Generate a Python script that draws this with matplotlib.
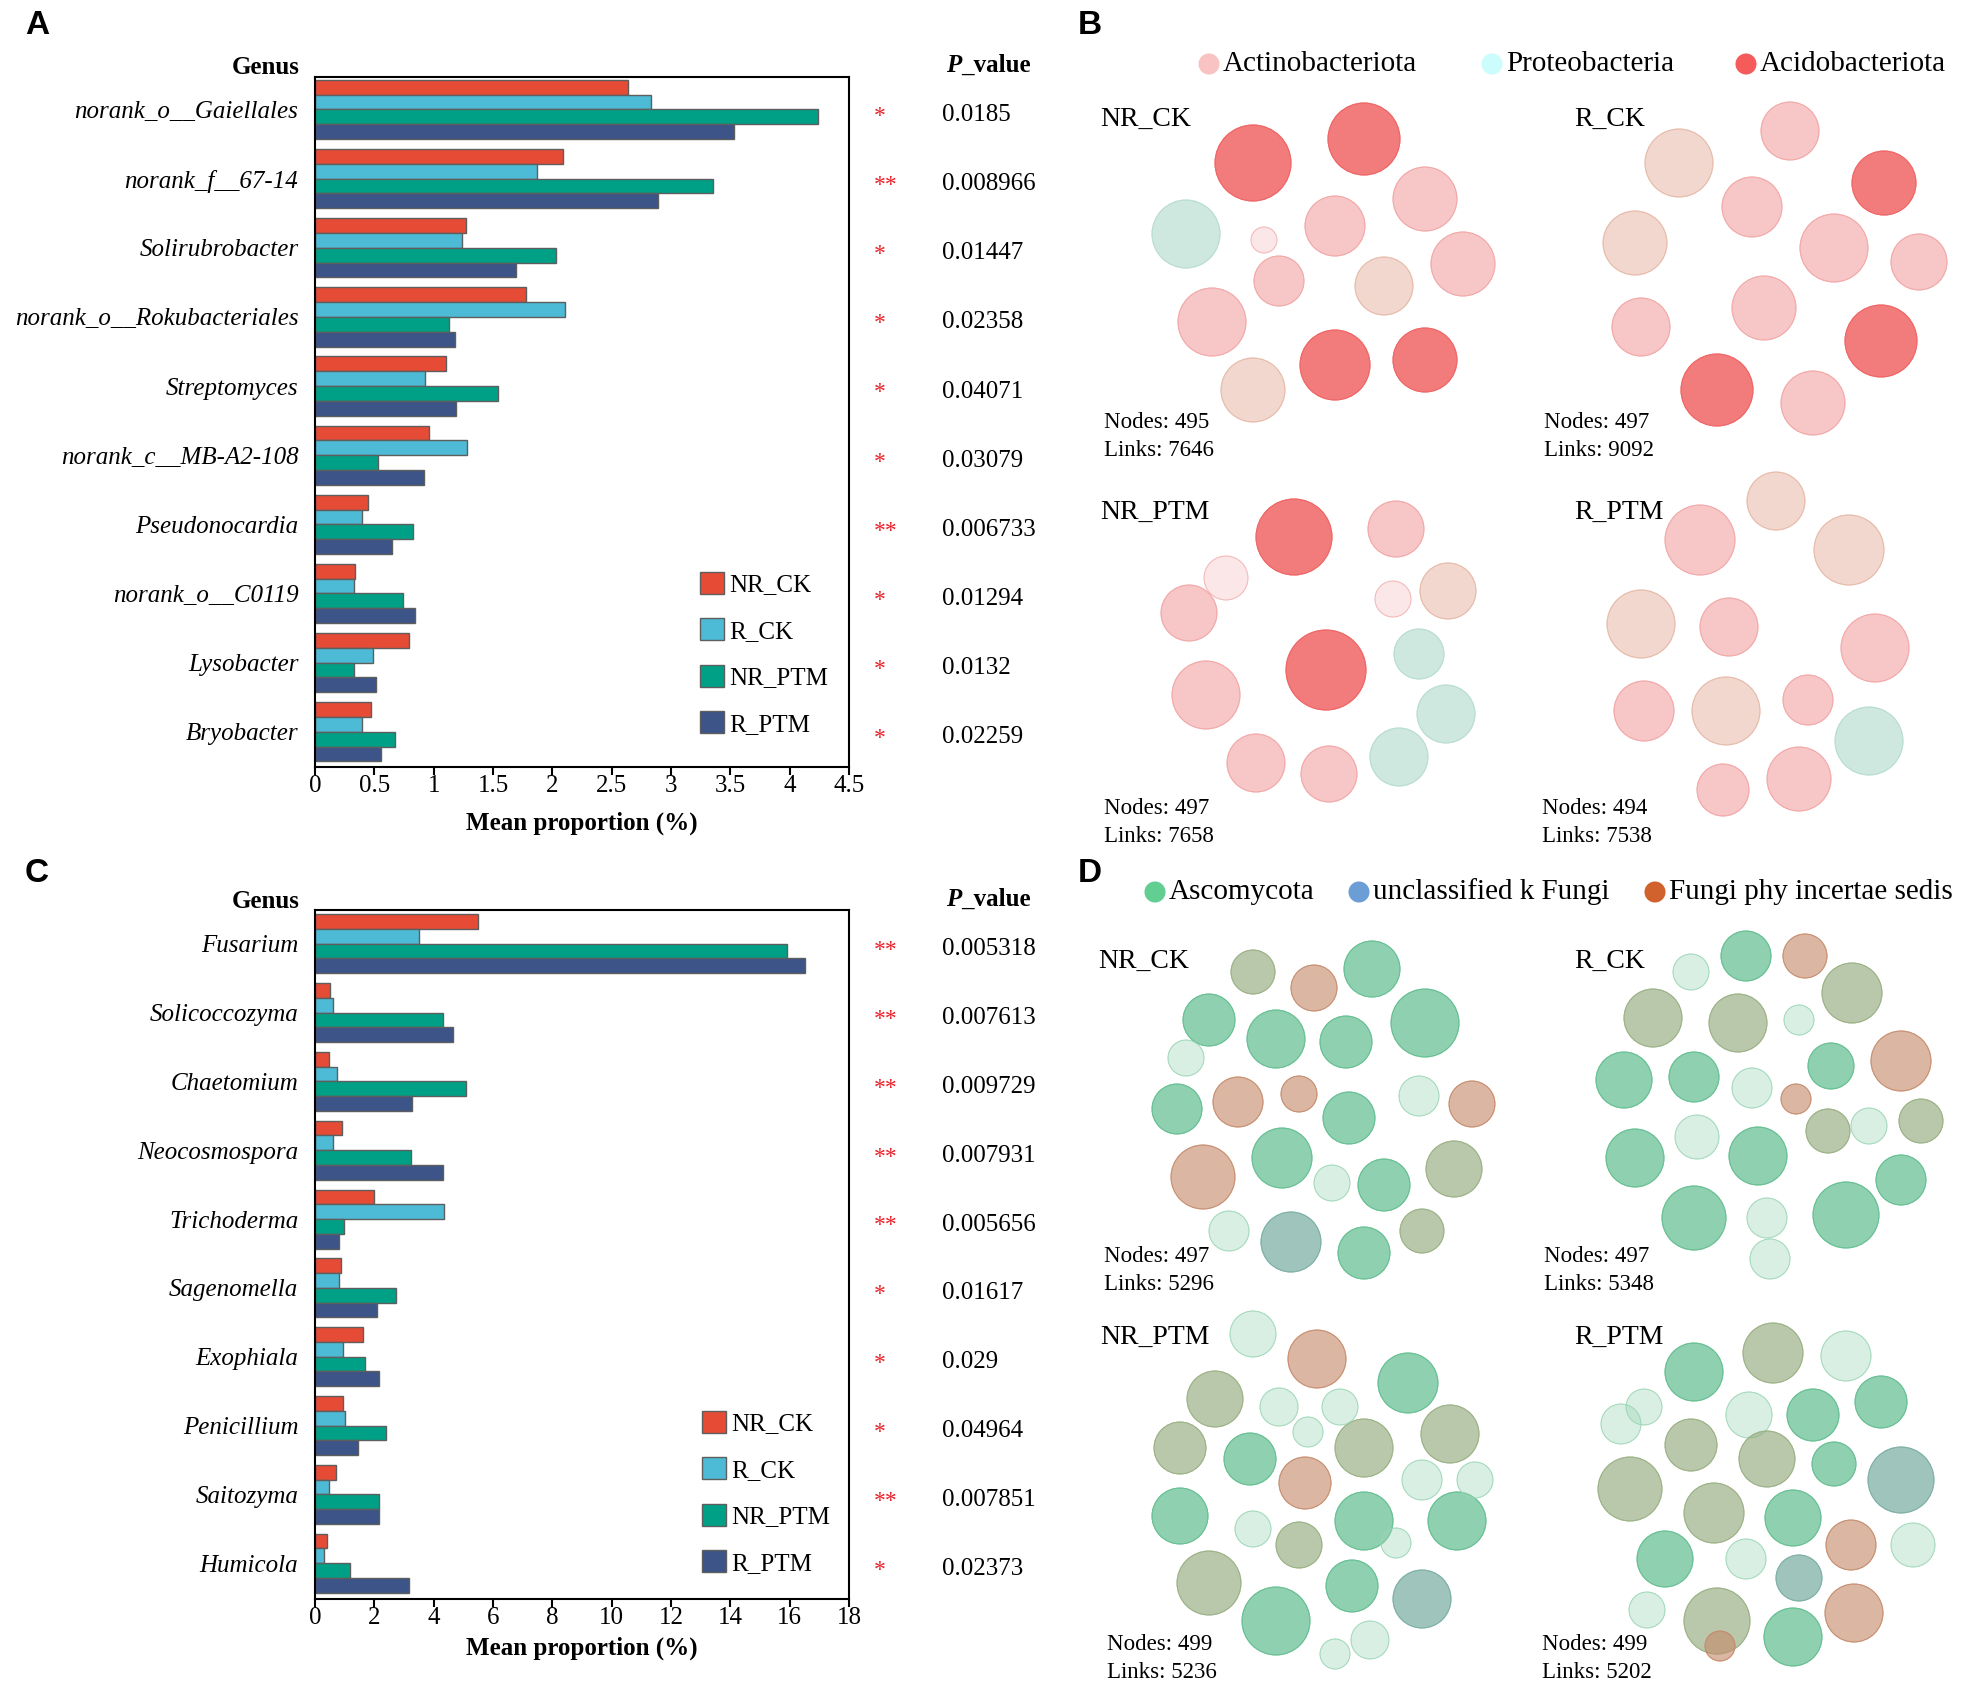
import numpy as np
import matplotlib

matplotlib.use("Agg")
import matplotlib.pyplot as plt
from matplotlib.patches import Circle
from matplotlib import transforms

plt.rcParams.update({"font.family": ["Liberation Serif", "DejaVu Serif"], "font.size": 18})

W, H = 1971, 1694

# ---------------- bar chart data ----------------
groups = ["NR_CK", "R_CK", "NR_PTM", "R_PTM"]
group_colors = ["#E64B35", "#4DBBD5", "#00A087", "#3C5488"]

genus_bac = ["norank_o__Gaiellales", "norank_f__67-14", "Solirubrobacter",
             "norank_o__Rokubacteriales", "Streptomyces", "norank_c__MB-A2-108",
             "Pseudonocardia", "norank_o__C0119", "Lysobacter", "Bryobacter"]
nr_ck_bac = [2.64, 2.09, 1.27, 1.78, 1.10, 0.96, 0.45, 0.34, 0.79, 0.47]
r_ck_bac = [2.83, 1.87, 1.24, 2.11, 0.93, 1.28, 0.40, 0.33, 0.49, 0.40]
nr_ptm_bac = [4.24, 3.35, 2.03, 1.13, 1.54, 0.53, 0.83, 0.74, 0.33, 0.67]
r_ptm_bac = [3.53, 2.89, 1.69, 1.18, 1.19, 0.92, 0.65, 0.84, 0.51, 0.56]
sig_bac = ["*", "**", "*", "*", "*", "*", "**", "*", "*", "*"]
pval_bac = ["0.0185", "0.008966", "0.01447", "0.02358", "0.04071",
            "0.03079", "0.006733", "0.01294", "0.0132", "0.02259"]

genus_fun = ["Fusarium", "Solicoccozyma", "Chaetomium", "Neocosmospora", "Trichoderma",
             "Sagenomella", "Exophiala", "Penicillium", "Saitozyma", "Humicola"]
nr_ck_fun = [5.49, 0.50, 0.48, 0.92, 1.99, 0.89, 1.62, 0.94, 0.71, 0.39]
r_ck_fun = [3.52, 0.62, 0.73, 0.59, 4.35, 0.80, 0.96, 1.01, 0.46, 0.32]
nr_ptm_fun = [15.9, 4.30, 5.10, 3.23, 0.98, 2.72, 1.69, 2.40, 2.17, 1.17]
r_ptm_fun = [16.52, 4.65, 3.27, 4.32, 0.80, 2.08, 2.15, 1.44, 2.17, 3.16]
sig_fun = ["**", "**", "**", "**", "**", "*", "*", "*", "**", "*"]
pval_fun = ["0.005318", "0.007613", "0.009729", "0.007931", "0.005656",
            "0.01617", "0.029", "0.04964", "0.007851", "0.02373"]

# ---------------- network data ----------------
# modules: (x, y, radius, tone) in layout pixels, relative to network centre
bac_phyla = ["Actinobacteriota", "Proteobacteria", "Acidobacteriota"]
bac_phyla_colors = ["#F9C3C3", "#CCFCFC", "#F55B5B"]
fun_phyla = ["Ascomycota", "unclassified k Fungi", "Fungi phy incertae sedis"]
fun_phyla_colors = ["#62CE92", "#6C9ED6", "#D2622D"]

bac_nr_ck = [(-70, -99, 38, "R"), (41, -123, 36, "R"), (102, -63, 32, "P"), (-137, -28, 34, "C"),
             (12, -36, 30, "P"), (140, 2, 32, "P"), (-44, 19, 25, "P"), (61, 24, 29, "G"),
             (-111, 60, 34, "P"), (12, 103, 35, "R"), (102, 98, 32, "R"), (-70, 128, 32, "G"),
             (-59, -22, 13, "S")]
bac_r_ck = [(-96, -105, 34, "G"), (15, -137, 29, "P"), (109, -85, 32, "R"), (-23, -61, 30, "P"),
            (-140, -25, 32, "G"), (59, -20, 34, "P"), (144, -6, 28, "P"), (-11, 40, 32, "P"),
            (-134, 59, 29, "P"), (106, 73, 36, "R"), (-58, 122, 36, "R"), (38, 135, 32, "P")]
bac_nr_ptm = [(-24, -113, 38, "R"), (78, -121, 28, "P"), (130, -59, 28, "G"), (-129, -37, 28, "P"),
              (8, 20, 40, "R"), (101, 4, 25, "C"), (-112, 45, 34, "P"), (128, 64, 29, "C"),
              (-62, 113, 29, "P"), (11, 124, 28, "P"), (81, 107, 29, "C"), (-92, -72, 22, "S"),
              (75, -51, 18, "S")]
bac_r_ptm = [(-58, -104, 35, "P"), (18, -143, 29, "G"), (91, -94, 35, "G"), (-117, -20, 34, "G"),
             (-29, -17, 29, "P"), (117, 4, 34, "P"), (-114, 67, 30, "P"), (-32, 67, 34, "G"),
             (50, 56, 25, "P"), (111, 97, 34, "C"), (-35, 146, 26, "P"), (41, 135, 32, "P")]

fun_nr_ck = [(-114, -90, 26, "G"), (-47, -71, 29, "G"), (23, -68, 26, "G"), (102, -87, 34, "G"),
             (-70, -138, 22, "M"), (-9, -122, 23, "R"), (49, -141, 28, "G"), (-146, -1, 25, "G"),
             (-85, -8, 25, "R"), (26, 8, 26, "G"), (96, -14, 20, "S"), (149, -6, 23, "R"),
             (-120, 67, 32, "R"), (-41, 48, 30, "G"), (61, 75, 26, "G"), (131, 59, 28, "M"),
             (-32, 132, 30, "B"), (41, 143, 26, "G"), (99, 121, 22, "M"), (-94, 121, 20, "S"),
             (9, 73, 18, "S"), (-24, -16, 18, "R"), (-137, -52, 18, "S")]
fun_r_ck = [(-117, -87, 29, "M"), (-32, -82, 29, "M"), (-24, -149, 25, "G"), (35, -149, 22, "R"),
            (82, -112, 30, "M"), (131, -44, 30, "R"), (61, -39, 23, "G"), (-146, -25, 28, "G"),
            (-76, -28, 25, "G"), (-18, -17, 20, "S"), (-73, 32, 22, "S"), (-135, 53, 29, "G"),
            (-12, 51, 29, "G"), (58, 26, 22, "M"), (151, 16, 22, "M"), (-76, 113, 32, "G"),
            (76, 110, 33, "G"), (-3, 113, 20, "S"), (131, 75, 25, "G"), (99, 21, 18, "S"),
            (0, 154, 20, "S"), (26, -6, 15, "R"), (-79, -133, 18, "S"), (29, -85, 15, "S")]
fun_nr_ptm = [(-2, -131, 29, "R"), (89, -107, 30, "G"), (-104, -91, 28, "M"), (-66, -156, 23, "S"),
              (45, -42, 29, "M"), (131, -56, 29, "M"), (-69, -31, 26, "G"), (-139, -42, 26, "M"),
              (-14, -7, 26, "R"), (45, 31, 29, "G"), (138, 31, 29, "G"), (-139, 26, 28, "G"),
              (-20, 55, 23, "M"), (-110, 93, 32, "M"), (-43, 131, 34, "G"), (33, 96, 26, "G"),
              (103, 109, 29, "B"), (-40, -83, 19, "S"), (21, -83, 18, "S"), (103, -10, 20, "S"),
              (156, -10, 18, "S"), (-66, 39, 18, "S"), (51, 150, 19, "S"), (77, 53, 15, "S"),
              (-11, -58, 15, "S"), (16, 164, 15, "S")]
fun_r_ptm = [(-74, -120, 29, "G"), (5, -139, 30, "M"), (78, -136, 25, "S"), (45, -77, 26, "G"),
             (113, -90, 26, "G"), (-19, -77, 23, "S"), (-77, -47, 26, "M"), (-1, -33, 28, "M"),
             (-138, -3, 32, "M"), (133, -12, 33, "B"), (66, -28, 22, "G"), (-54, 21, 30, "M"),
             (25, 26, 28, "G"), (-103, 67, 28, "G"), (83, 53, 25, "R"), (145, 53, 22, "S"),
             (-22, 67, 20, "S"), (31, 86, 23, "B"), (-51, 129, 33, "M"), (25, 145, 29, "G"),
             (86, 121, 29, "R"), (-48, 154, 15, "R"), (-121, 118, 18, "S"), (-147, -68, 20, "S"),
             (-124, -85, 18, "S")]

net_names = ["NR_CK", "R_CK", "NR_PTM", "R_PTM"]
bac_nodes = [495, 497, 497, 494]
bac_links = [7646, 9092, 7658, 7538]
fun_nodes = [497, 497, 499, 499]
fun_links = [5296, 5348, 5236, 5202]

bac_tones = {"R": ("#F06464", 0.85), "P": ("#F2A3A3", 0.6), "G": ("#E6B6A4", 0.55),
             "C": ("#B5DCCF", 0.65), "S": ("#F3B0B0", 0.3)}
fun_tones = {"G": ("#62BE90", 0.72), "M": ("#98AF82", 0.68), "R": ("#C58A6A", 0.62),
             "B": ("#79AEA3", 0.72), "S": ("#9BD6B6", 0.38)}

fig = plt.figure(figsize=(W / 100, H / 100), dpi=100)
ov = fig.add_axes([0, 0, 1, 1])
ov.set_xlim(0, W)
ov.set_ylim(H, 0)
ov.axis("off")


def fx(px):
    return px / W


def fy(py):
    return 1 - py / H


def bar_panel(top, bottom, ylim, genus, series, sig, pvals, xmax, step, leg_xy, head_y, lpad):
    ax = fig.add_axes([fx(315), fy(bottom), fx(849) - fx(315), fy(top) - fy(bottom)])
    y = np.arange(len(genus))
    offs = [-0.321, -0.107, 0.107, 0.321]
    for vals, col, lab, o in zip(series, group_colors, groups, offs):
        ax.barh(y + o, vals, height=0.214, color=col, edgecolor="#5E5E5E",
                linewidth=1.0, label=lab)
    ax.set_ylim(*ylim)
    ax.set_xlim(0, xmax)
    ticks = np.arange(0, xmax + step / 2, step)
    ax.set_xticks(ticks)
    ax.set_xticklabels([f"{t:g}" for t in ticks], fontsize=18)
    ax.set_yticks(y)
    ax.set_yticklabels(genus, fontsize=18, style="italic")
    ax.tick_params(axis="y", length=0, pad=12)
    ax.tick_params(axis="x", length=6, width=1.5, pad=0)
    for s in ax.spines.values():
        s.set_linewidth(1.5)
    ax.set_xlabel("Mean proportion (%)", fontsize=18, fontweight="bold", labelpad=lpad)
    ax.legend(loc="upper left", bbox_to_anchor=(fx(leg_xy[0]), fy(leg_xy[1])),
              bbox_transform=fig.transFigure, frameon=False, fontsize=18,
              handlelength=0.96, handleheight=0.96, handletextpad=0.2,
              labelspacing=0.88, borderpad=0, borderaxespad=0)
    tr = transforms.blended_transform_factory(fig.transFigure, ax.transData)
    for i, (s, p) in enumerate(zip(sig, pvals)):
        ax.text(fx(874), i + 0.10, s, transform=tr, color="#E8202A", fontsize=17,
                ha="left", va="center", clip_on=False)
        ax.text(fx(942), i + 0.08, p, transform=tr, fontsize=18, ha="left",
                va="center", clip_on=False)
    ov.text(300, head_y - 5, "Genus", fontsize=18, fontweight="bold", ha="right", va="center")
    pt = ov.text(946, head_y, "P", fontsize=18, fontweight="bold", style="italic",
                 ha="left", va="baseline")
    ov.annotate("_value", xy=(1, 0), xycoords=pt, fontsize=18, fontweight="bold",
                ha="left", va="bottom")
    return ax


bar_panel(77, 767, (9.51, -0.47), genus_bac,
          [nr_ck_bac, r_ck_bac, nr_ptm_bac, r_ptm_bac], sig_bac, pval_bac, 4.5, 0.5,
          (700, 572), 72, 10)
bar_panel(910, 1599, (9.52, -0.49), genus_fun,
          [nr_ck_fun, r_ck_fun, nr_ptm_fun, r_ptm_fun], sig_fun, pval_fun, 18, 2,
          (702, 1411), 906, 5)


def network(center, modules, tones):
    cx, cy = center
    nax = fig.add_axes([fx(cx - 200), fy(cy + 200), 400 / W, 400 / H])
    nax.set_xlim(-200, 200)
    nax.set_ylim(200, -200)
    nax.axis("off")
    for x, y, r, t in modules:
        col, a = tones[t]
        nax.add_patch(Circle((x, y), r, facecolor=col, alpha=a, edgecolor=col, lw=0.8))
        nax.add_patch(Circle((x, y), r, facecolor="none", edgecolor=col, lw=0.6, alpha=0.9))


bac_centers = [(1323, 262), (1775, 268), (1318, 650), (1758, 644)]
fun_centers = [(1323, 1110), (1770, 1105), (1319, 1490), (1768, 1492)]
for c, m in zip(bac_centers, [bac_nr_ck, bac_r_ck, bac_nr_ptm, bac_r_ptm]):
    network(c, m, bac_tones)
for c, m in zip(fun_centers, [fun_nr_ck, fun_r_ck, fun_nr_ptm, fun_r_ptm]):
    network(c, m, fun_tones)

# network labels
bac_label_pos = [(1100, 119), (1574, 119), (1100, 512), (1574, 512)]
bac_count_pos = [(1104, 422), (1544, 423), (1104, 809), (1542, 809)]
fun_label_pos = [(1098, 961), (1574, 961), (1100, 1337), (1574, 1337)]
fun_count_pos = [(1104, 1256), (1544, 1256), (1107, 1644), (1542, 1644)]
for name, lp, cp, n, l in zip(net_names, bac_label_pos, bac_count_pos, bac_nodes, bac_links):
    ov.text(lp[0], lp[1], name, fontsize=20, ha="left", va="center")
    ov.text(cp[0], cp[1], f"Nodes: {n}", fontsize=16.5, ha="left", va="center")
    ov.text(cp[0], cp[1] + 28, f"Links: {l}", fontsize=16.5, ha="left", va="center")
for name, lp, cp, n, l in zip(net_names, fun_label_pos, fun_count_pos, fun_nodes, fun_links):
    ov.text(lp[0], lp[1], name, fontsize=20, ha="left", va="center")
    ov.text(cp[0], cp[1], f"Nodes: {n}", fontsize=16.5, ha="left", va="center")
    ov.text(cp[0], cp[1] + 28, f"Links: {l}", fontsize=16.5, ha="left", va="center")

# network legends
for name, col, x in zip(bac_phyla, bac_phyla_colors, [1209, 1492, 1746]):
    ov.scatter([x], [64], s=230, color=col, edgecolors="none")
    ov.text(x + 14, 64, name, fontsize=21, ha="left", va="center")
for name, col, x in zip(fun_phyla, fun_phyla_colors, [1155, 1359, 1655]):
    ov.scatter([x], [892], s=230, color=col, edgecolors="none")
    ov.text(x + 14, 892, name, fontsize=21, ha="left", va="center")

# panel letters
for letter, (x, y) in zip("ABCD", [(37, 26), (1090, 26), (37, 874), (1090, 874)]):
    ov.text(x, y, letter, fontsize=24, fontweight="bold", family="Liberation Sans",
            ha="center", va="center")

fig.savefig("out.png", dpi=100)
